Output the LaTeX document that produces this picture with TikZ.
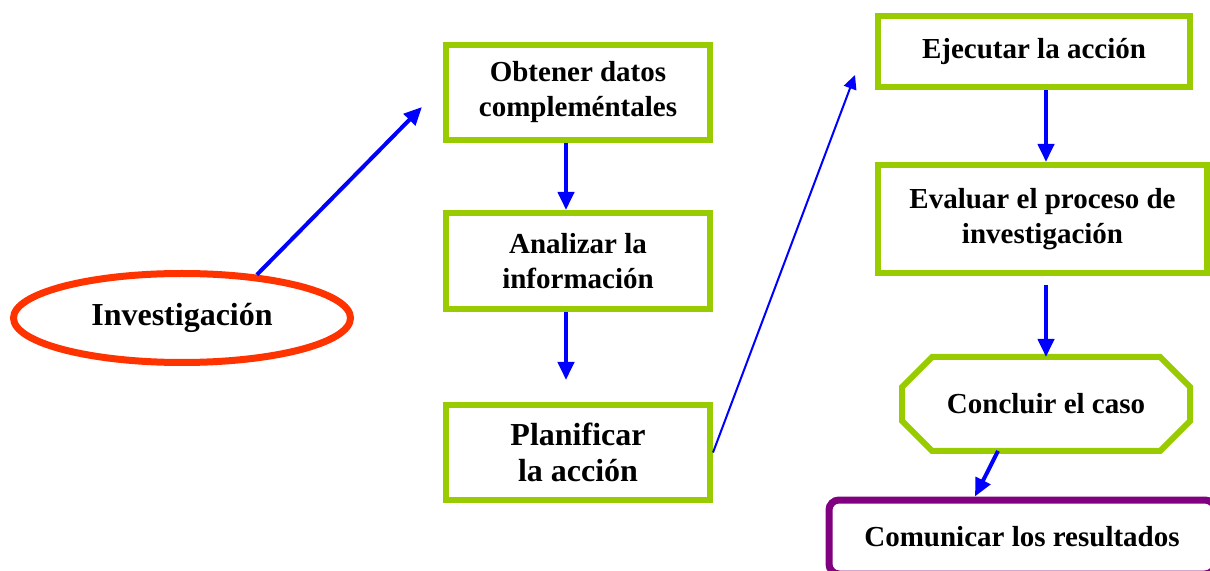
\documentclass[tikz,border=0pt]{standalone}
\usepackage{fontspec}
\setmainfont{Liberation Serif}
\usetikzlibrary{shapes.geometric,arrows.meta}
\definecolor{boxgreen}{RGB}{153,204,0}
\definecolor{ovalred}{RGB}{255,51,0}
\definecolor{endpurple}{RGB}{128,0,128}

\begin{document}
\begin{tikzpicture}[x=0.5pt,y=-0.5pt,
	stepbox/.style={draw=boxgreen,line width=3pt,align=center,inner sep=0pt,
		font=\bfseries\fontsize{14.5pt}{17.5pt}\selectfont},
	arr/.style={draw=blue,line width=2pt,-{Triangle[length=9pt,width=8pt]}}]
	\useasboundingbox (0,0) rectangle (1210,571);
	
	%oval
	\node[ellipse,draw=ovalred,line width=3.5pt,inner sep=0pt,minimum width=168.5pt,minimum height=44.5pt,
		font=\bfseries\fontsize{16pt}{18pt}\selectfont] (inv) at (182,318) {Investigación};
	
	%left column
	\node[stepbox,minimum width=132pt,minimum height=47.5pt] (obt) at (578,92.5) {Obtener datos\\compleméntales};
	\node[stepbox,minimum width=132pt,minimum height=48pt] (ana) at (578,261) {Analizar la\\información};
	\node[stepbox,minimum width=132pt,minimum height=47.5pt,
		font=\bfseries\fontsize{16pt}{18pt}\selectfont] (pla) at (578,452.5) {Planificar\\la acción};
	
	%right column
	\node[stepbox,minimum width=156pt,minimum height=35.5pt] (eje) at (1034,51.5) {Ejecutar la acción};
	\node[stepbox,minimum width=164.5pt,minimum height=54pt] (eva) at (1042.5,219) {Evaluar el proceso de\\investigación};
	\node[stepbox,draw=none,outer sep=0pt,minimum width=144pt,minimum height=47pt] (con) at (1046,404) {Concluir el caso};
	\draw[boxgreen,line width=3pt] ([xshift=15pt]con.north west) -- ([xshift=-15pt]con.north east)
		-- ([yshift=-15pt]con.north east) -- ([yshift=15pt]con.south east) -- ([xshift=-15pt]con.south east)
		-- ([xshift=15pt]con.south west) -- ([yshift=15pt]con.south west) -- ([yshift=-15pt]con.north west) -- cycle;
	\node[stepbox,draw=endpurple,line width=3.5pt,rounded corners=5pt,minimum width=193pt,minimum height=37pt] (com) at (1022,537) {Comunicar los resultados};
	
	%arrows
	\coordinate (c1) at (422,107);
	\coordinate (c2) at (855,75);
	\draw[arr] (inv.30) -- (c1);
	\draw[arr] ([xshift=-6pt]obt.south) -- ([xshift=-6pt]ana.north);
	\draw[arr,shorten >=11pt] ([xshift=-6pt]ana.south) -- ([xshift=-6pt]pla.north);
	\draw[arr,line width=1pt,-{Triangle[length=7pt,width=6.5pt]}] (pla.east) -- (c2);
	\draw[arr] ([xshift=6pt]eje.south) -- ([xshift=6pt]eje.south |- eva.north);
	\draw[arr] ([xshift=1.75pt,yshift=-4.5pt]eva.south) -- ([xshift=1.75pt]eva.south |- con.north);
	\draw[arr] ([xshift=-24pt]con.south) -- ([xshift=-23.5pt]com.north);
\end{tikzpicture}
\end{document}
